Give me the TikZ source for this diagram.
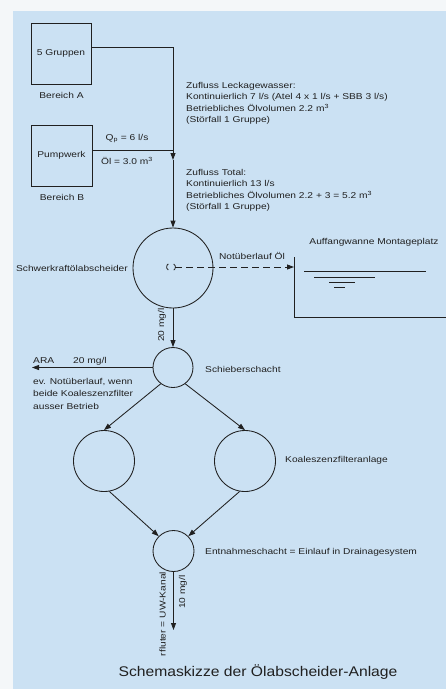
\documentclass[tikz,border=0pt]{standalone}
\usepackage{fontspec}
\setmainfont{Liberation Sans}
\newfontfamily\labfont[FakeStretch=1.2]{Liberation Sans}
\newfontfamily\titlefont[FakeStretch=1.12]{Liberation Sans}
\usetikzlibrary{arrows.meta}
\definecolor{bgblue}{RGB}{203,225,243}
\definecolor{margincol}{RGB}{244,247,249}
\definecolor{ink}{RGB}{32,32,32}
\begin{document}
\begin{tikzpicture}[x=1pt,y=-1pt,
  lab/.style={font=\labfont\fontsize{8.5}{11.3}\selectfont, text=ink, inner sep=0pt},
  ln/.style={draw=ink, line width=0.85pt},
  arr/.style={ln, -{Triangle[length=7pt,width=5pt]}},
  box/.style={ln, minimum width=60pt, minimum height=61pt, inner sep=0pt},
  circ/.style={ln, circle, inner sep=0pt},
  ]
\fill[margincol] (0,0) rectangle (446,689);
\fill[bgblue] (13,11) rectangle (446,689);
\useasboundingbox (0,0) rectangle (446,689);

% source boxes
\node[box, lab] (A) at (61,53.5) {5 Gruppen};
\node[lab] (Alab) at (61.5,95) {Bereich A};
\node[box, lab, minimum width=61pt] (B) at (61.5,155.5) {Pumpwerk};
\node[lab] (Blab) at (62,197) {Bereich B};

\coordinate (jA) at (173,47);
\coordinate (jB) at (173,150);
\coordinate (mid) at (173,160);

% main separator
\node[circ, minimum size=80pt] (S) at (173,268) {};
\node[lab, anchor=east] (Slab) at (128,268) {Schwerkraftölabscheider};

\draw[ln] (A.east |- jA) -- (jA) -- (jB);
\draw[ln] (B.east |- jB) -- (jB);
\draw[arr] (jB) -- (mid);
\draw[arr] (mid) -- (S.north);

\node[lab] (Q) at (127,139) {Q\textsubscript{p} = 6 l/s};
\node[lab] (Oel) at (127,161) {Öl = 3.0 m\textsuperscript{3}};

% text blocks
\node[lab, anchor=base west] (z1) at (186,88) {Zufluss Leckagewasser:};
\node[lab, anchor=base west] (z2) at (186,99.5) {Kontinuierlich 7 l/s (Atel 4 x 1 l/s + SBB 3 l/s)};
\node[lab, anchor=base west] (z3) at (186,111) {Betriebliches Ölvolumen 2.2 m\textsuperscript{3}};
\node[lab, anchor=base west] (z4) at (186,122.3) {(Störfall 1 Gruppe)};

\node[lab, anchor=base west] (t1) at (186,175) {Zufluss Total:};
\node[lab, anchor=base west] (t2) at (186,186.5) {Kontinuierlich 13 l/s};
\node[lab, anchor=base west] (t3) at (186,198) {Betriebliches Ölvolumen 2.2 + 3 = 5.2 m\textsuperscript{3}};
\node[lab, anchor=base west] (t4) at (186,209.3) {(Störfall 1 Gruppe)};

% overflow symbol and dashed line
\draw[ln, line width=0.75pt] (168.25,270.03) arc[start angle=120,end angle=240,radius=3.5];
\draw[ln, line width=0.75pt] (173.75,263.97) arc[start angle=-60,end angle=60,radius=3.5];
\coordinate (sym) at (175.3,267);
\coordinate (wtip) at (294,267);
\draw[arr, dash pattern=on 7pt off 4pt] (sym) -- (wtip);
\node[lab] (nol) at (252,256) {Notüberlauf Öl};

% basin
\coordinate (w1) at (294,257);
\coordinate (w2) at (294,317);
\coordinate (w3) at (446,317);
\draw[ln] (w1) -- (w2) -- (w3);
\draw[ln] (304,271) -- (426,271);
\draw[ln] (314,277) -- (375,277);
\draw[ln] (329,282) -- (355,282);
\draw[ln] (334,287) -- (345,287);
\node[lab] (aw) at (374,242) {Auffangwanne Montageplatz};

% Schieberschacht
\node[circ, minimum size=40pt] (Sch) at (173,367.5) {};
\draw[arr] (S.south) -- (Sch.north);
\node[lab, rotate=90] (m20) at (162,325) {20 mg/l};
\node[lab, anchor=west] (Schlab) at (205,369) {Schieberschacht};

\coordinate (ara) at (32,367.5);
\draw[arr] (Sch.west) -- (ara);
\node[lab, anchor=base west] (aral) at (33,363) {ARA};
\node[lab, anchor=base west] (aram) at (73,363) {20 mg/l};
\node[lab, anchor=base west] (n1) at (33,384) {ev. Notüberlauf, wenn};
\node[lab, anchor=base west] (n2) at (33,396.5) {beide Koaleszenzfilter};
\node[lab, anchor=base west] (n3) at (33,409) {ausser Betrieb};

% filters
\node[circ, minimum size=61pt] (L) at (104,461) {};
\node[circ, minimum size=61pt] (R) at (245,461) {};
\node[lab, anchor=west] (klab) at (285,460) {Koaleszenzfilteranlage};
\draw[arr] (Sch.-127) -- (L.north);
\draw[arr] (Sch.-53) -- (R.north);

% Entnahmeschacht
\node[circ, minimum size=41pt] (E) at (173.5,551) {};
\node[lab, anchor=west] (elab) at (205,552) {Entnahmeschacht = Einlauf in Drainagesystem};
\draw[arr] (L.-80) -- (E.135);
\draw[arr] (R.-100) -- (E.45);

\coordinate (out) at (173.5,630);
\draw[arr] (E.south) -- (out);
\node[lab, rotate=90] (m10) at (183,592) {10 mg/l};
\node[lab, rotate=90] (uw) at (162.5,614) {rfluter = UW-Kanal};

% title
\node[font=\titlefont\fontsize{14}{16}\selectfont, text=ink, inner sep=0pt] (title) at (258,672) {Schemaskizze der Ölabscheider-Anlage};
\end{tikzpicture}
\end{document}
